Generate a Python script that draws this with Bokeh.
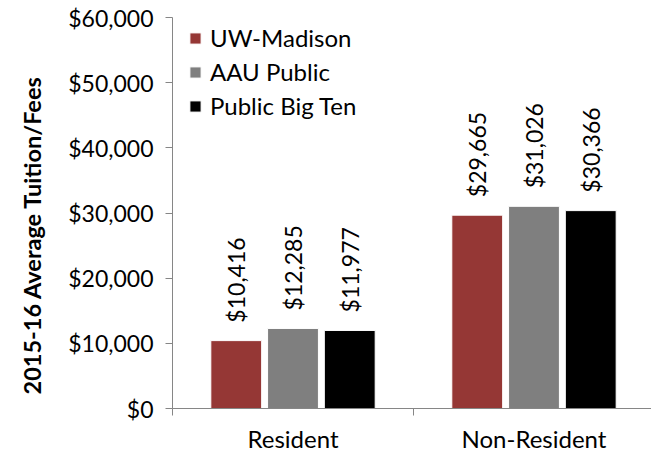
import math
from bokeh.plotting import figure
from bokeh.models import ColumnDataSource, LabelSet, Title, FixedTicker, NumeralTickFormatter, Range1d, Legend, LegendItem
from bokeh.core.properties import value
from bokeh.embed import file_html
from bokeh.resources import INLINE

categories = ["Resident", "Non-Resident"]
series = ["UW-Madison", "AAU Public", "Public Big Ten"]
uw_madison = [10416, 29665]
aau_public = [12285, 31026]
public_big_ten = [11977, 30366]
colors = ["#953735", "#7F7F7F", "#000000"]
y_title = "2015-16 Average Tuition/Fees"

FONT = "Lato"
p = figure(width=651, height=455, output_backend="svg", toolbar_location=None,
           x_range=Range1d(0, 1.9876), y_range=Range1d(0, 60000),
           min_border_left=170, min_border_right=0, min_border_top=17, min_border_bottom=47)
p.outline_line_color = None
p.grid.grid_line_color = None
p.background_fill_color = "white"

bar_w = 0.211
step = 0.2355
values = [uw_madison, aau_public, public_big_ten]
items = []
for j, (name, vals, col) in enumerate(zip(series, values, colors)):
    xs = [i + 0.5 + (j - 1) * step for i in range(len(categories))]
    src = ColumnDataSource(dict(x=xs, top=vals, lab=["${:,}".format(v) for v in vals]))
    r = p.vbar(x="x", top="top", width=bar_w, source=src, fill_color=col, line_color="white", line_width=1)
    items.append(LegendItem(label=name, renderers=[r]))
    labels = LabelSet(x="x", y="top", text="lab", source=src, angle=math.pi / 2,
                      text_align="left", text_baseline="middle", y_offset=18,
                      text_font=value(FONT), text_font_size=value("23px"), text_color="#000000")
    p.add_layout(labels)

legend = Legend(items=items, location=(16, 288))
legend.margin = 0
legend.padding = 0
legend.spacing = 5
legend.glyph_width = 14
legend.glyph_height = 14
legend.label_standoff = 8
legend.label_text_font = FONT
legend.label_text_font_size = "24px"
legend.label_text_color = "#000000"
legend.border_line_color = None
legend.background_fill_alpha = 0
p.add_layout(legend)

# y axis
yax = p.yaxis[0]
yax.ticker = FixedTicker(ticks=[0, 10000, 20000, 30000, 40000, 50000, 60000])
yax.formatter = NumeralTickFormatter(format="$0,0")
yax.axis_line_color = "#868686"
yax.major_tick_line_color = "#868686"
yax.major_tick_out = 7
yax.major_tick_in = 0
yax.minor_tick_line_color = None
yax.major_label_text_font = FONT
yax.major_label_text_font_size = "23px"
yax.major_label_text_color = "#000000"
yax.major_label_standoff = 12

# y axis title, set a little below the frame centre as in the reference
title_lbl = Title(text=y_title, align="left", offset=14, vertical_align="top", standoff=35,
                  text_font=FONT, text_font_size="23.5px", text_font_style="bold",
                  text_color="#000000")
p.add_layout(title_lbl, "left")

# x axis
xax = p.xaxis[0]
xax.ticker = FixedTicker(ticks=[0.5, 1.5], minor_ticks=[0, 1, 2])
xax.major_label_overrides = {0.5: categories[0], 1.5: categories[1]}
xax.axis_line_color = "#868686"
xax.major_tick_line_color = None
xax.major_tick_out = 0
xax.major_tick_in = 0
xax.minor_tick_line_color = "#868686"
xax.minor_tick_out = 7
xax.minor_tick_in = 0
xax.major_label_text_font = FONT
xax.major_label_text_font_size = "24px"
xax.major_label_text_color = "#000000"
xax.major_label_standoff = 8

open("out.html", "w").write(file_html(p, INLINE))
